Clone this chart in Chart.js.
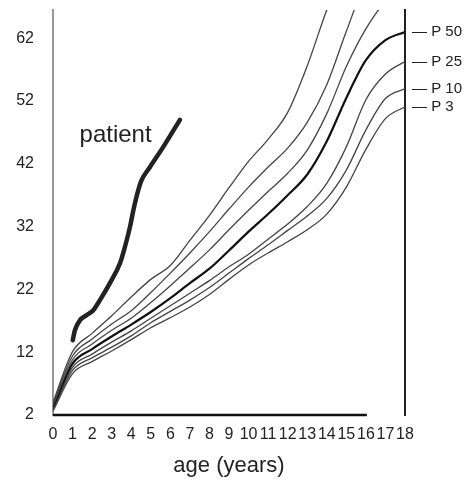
<!DOCTYPE html>
<html>
<head>
<meta charset="utf-8">
<script src="https://cdn.jsdelivr.net/npm/chart.js@4"></script>
<style>
  body { margin: 0; background: #fff; }
  #wrap { width: 467px; height: 482px; position: relative; }
</style>
</head>
<body>
<div id="wrap"><canvas id="growthChart"></canvas></div>
<script>
// ages on the x axis (years)
const ages = [0, 1, 2, 3, 4, 5, 6, 7, 8, 9, 10, 11, 12, 13, 14, 15, 16, 17, 18];

// percentile curves, weight in kg per age
const p3  = [2.6, 8.6, 10.5, 12.2, 14.0, 15.9, 17.5, 19.2, 21.2, 23.6, 25.9, 27.8, 29.6, 31.5, 34.0, 38.3, 44.3, 49.2, 51.1];
const p10 = [2.8, 9.1, 11.1, 12.8, 14.6, 16.7, 18.5, 20.3, 22.3, 24.6, 26.9, 29.1, 31.4, 33.7, 36.5, 41.0, 47.4, 52.4, 54.0];
const p25 = [3.0, 9.6, 11.7, 13.6, 15.4, 17.4, 19.4, 21.4, 23.4, 25.6, 27.6, 30.0, 32.4, 35.2, 38.9, 44.7, 52.2, 56.3, 58.3];
const p50 = [3.3, 10.2, 12.5, 14.5, 16.4, 18.4, 20.6, 23.0, 25.3, 28.2, 31.2, 34.0, 37.0, 40.3, 45.6, 52.5, 58.5, 61.7, 63.0];
const p75 = [3.5, 10.8, 13.3, 15.5, 17.4, 19.9, 22.6, 25.4, 28.3, 31.5, 34.6, 37.6, 40.5, 44.2, 50.0, 57.5, 63.5, 67.8, 69.5];
const p90 = [3.8, 11.4, 14.1, 16.5, 18.6, 21.5, 24.6, 27.8, 31.2, 34.8, 38.3, 41.5, 44.5, 48.6, 54.6, 63.1, 71.0, 75.0, 77.0];
const p97 = [4.0, 12.1, 15.0, 17.8, 20.8, 23.6, 25.8, 29.8, 33.8, 38.2, 42.4, 45.9, 50.2, 57.6, 66.5, 74.0, 79.0, 82.0, 84.0];

// the patient's own measurements
const patientAge    = [1.01, 1.12, 1.38, 1.72, 2.06, 2.40, 2.91, 3.43, 3.68, 3.94, 4.11, 4.36, 4.53, 4.96, 5.64, 6.49];
const patientWeight = [13.9, 15.5, 17.1, 17.9, 18.7, 20.3, 23.0, 26.2, 28.8, 32.0, 34.6, 37.8, 39.4, 41.5, 44.7, 49.0];

// tick labels
const xTicks = [0, 1, 2, 3, 4, 5, 6, 7, 8, 9, 10, 11, 12, 13, 14, 15, 16, 17, 18];
const yTicks = [2, 12, 22, 32, 42, 52, 62];
const pLabelValues = [63.0, 58.2, 54.0, 51.0];
const pLabelText = ['\u2014 P 50', '\u2014 P 25', '\u2014 P 10', '\u2014 P 3'];

const FONT = '"Liberation Sans", Arial, sans-serif';

function toPoints(xs, ys) {
    return xs.map((a, i) => ({ x: a, y: ys[i] }));
}

function curve(values, bold) {
    return {
        data: toPoints(ages, values),
        borderColor: bold ? '#111' : '#444',
        borderWidth: bold ? 2.2 : 1.3,
        pointRadius: 0,
        cubicInterpolationMode: 'monotone',
        fill: false
    };
}

// vertical axes: fixed width, and no extra room for half-labels at the ends
function fixVertical(width) {
    return s => {
        s.width = width;
        s.paddingTop = 0;
        s.paddingBottom = 0;
    };
}

// bottom axis line stops short of the right edge, and the "patient" caption
const decorations = {
    id: 'decorations',
    afterDatasetsDraw(chart) {
        const { ctx, scales: { x, y } } = chart;
        ctx.save();
        ctx.strokeStyle = '#111';
        ctx.lineWidth = 2.5;
        ctx.beginPath();
        ctx.moveTo(x.getPixelForValue(0), y.getPixelForValue(2));
        ctx.lineTo(x.getPixelForValue(16.05), y.getPixelForValue(2));
        ctx.stroke();

        ctx.fillStyle = '#222';
        ctx.font = '24px ' + FONT;
        ctx.textAlign = 'center';
        ctx.textBaseline = 'middle';
        ctx.fillText('patient', x.getPixelForValue(3.2), y.getPixelForValue(46.6));
        ctx.restore();
    }
};

const ctx = document.getElementById('growthChart').getContext('2d');

new Chart(ctx, {
    type: 'line',
    data: {
        datasets: [
            curve(p97), curve(p90), curve(p75), curve(p50, true),
            curve(p25), curve(p10), curve(p3),
            {
                data: toPoints(patientAge, patientWeight),
                borderColor: '#222',
                borderWidth: 4.5,
                pointRadius: 0,
                cubicInterpolationMode: 'monotone',
                borderCapStyle: 'round',
                fill: false
            }
        ]
    },
    options: {
        responsive: true,
        maintainAspectRatio: false,
        animation: false,
        layout: { padding: { top: 10, left: 0, right: 0, bottom: 0 } },
        plugins: {
            legend: { display: false },
            tooltip: { enabled: false }
        },
        scales: {
            x: {
                type: 'linear',
                min: 0,
                max: 18,
                afterBuildTicks: s => { s.ticks = xTicks.map(v => ({ value: v })); },
                afterFit: s => { s.height = 67; s.paddingLeft = 0; s.paddingRight = 0; },
                grid: { display: false, drawTicks: false },
                border: { display: false },
                ticks: {
                    color: '#222',
                    font: { family: FONT, size: 16 },
                    padding: 10,
                    maxRotation: 0,
                    autoSkip: false
                },
                title: {
                    display: true,
                    text: 'age (years)',
                    color: '#222',
                    font: { family: FONT, size: 22 },
                    padding: { top: 0, bottom: 3 }
                }
            },
            y: {
                type: 'linear',
                min: 2,
                max: 66.5,
                afterBuildTicks: s => { s.ticks = yTicks.map(v => ({ value: v })); },
                afterFit: fixVertical(53),
                grid: { display: false, drawTicks: false },
                border: { display: true, color: '#999', width: 2 },
                ticks: {
                    color: '#222',
                    font: { family: FONT, size: 16 },
                    padding: 19
                }
            },
            y2: {
                type: 'linear',
                position: 'right',
                min: 2,
                max: 66.5,
                afterBuildTicks: s => { s.ticks = pLabelValues.map(v => ({ value: v })); },
                afterFit: fixVertical(62),
                grid: { display: false, drawTicks: false },
                border: { display: true, color: '#222', width: 2 },
                ticks: {
                    color: '#222',
                    font: { family: FONT, size: 15 },
                    padding: 7,
                    autoSkip: false,
                    callback: (value, i) => pLabelText[i]
                }
            }
        }
    },
    plugins: [decorations]
});
</script>
</body>
</html>
